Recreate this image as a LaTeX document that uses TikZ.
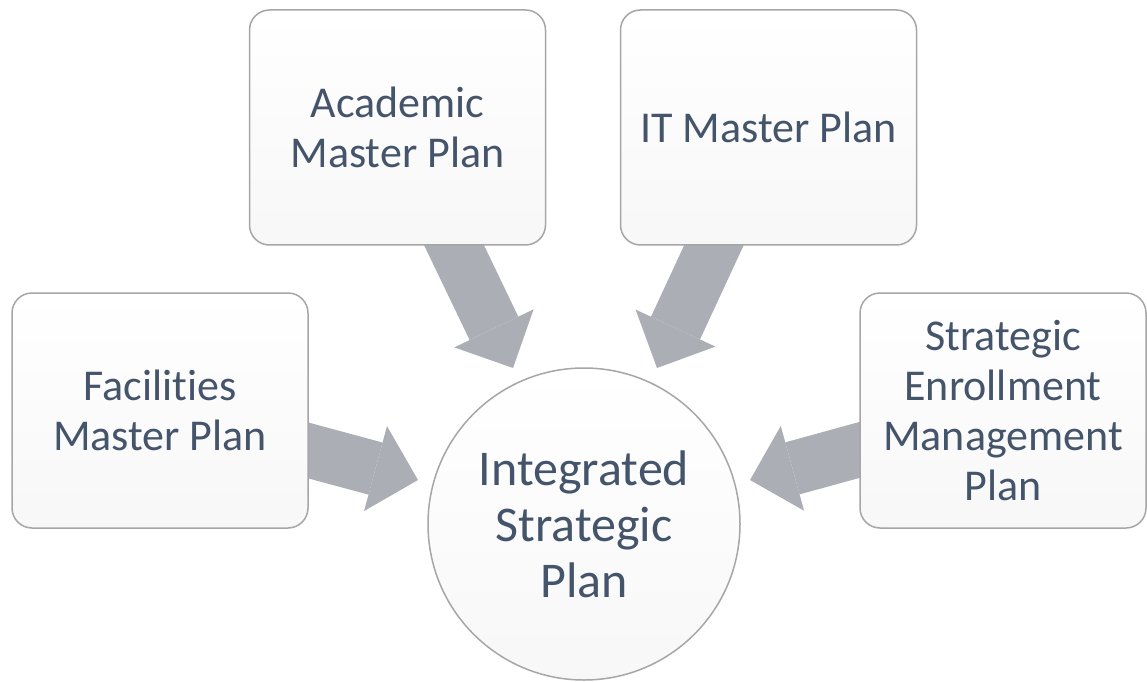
\documentclass[tikz,border=0pt]{standalone}
\usepackage{fontspec}
\setmainfont{Carlito}[RawFeature=-liga]
\usetikzlibrary{arrows.meta,backgrounds}
\definecolor{plantext}{HTML}{44546A}
\definecolor{feedgray}{HTML}{ABAFB5}
\definecolor{planrim}{HTML}{A6A6A6}

\begin{document}
\begin{tikzpicture}[x=1pt,y=1pt,
  plan/.style={draw=planrim,line width=1.5pt,rounded corners=20pt,minimum width=296pt,minimum height=235pt,
    top color=white,middle color=white,bottom color=black!3,align=center,text=plantext,font=\fontsize{44}{50}\selectfont},
  hub/.style={draw=planrim,line width=1.5pt,circle,minimum size=312pt,inner sep=0pt,
    top color=white,middle color=white,bottom color=black!3,align=center,text=plantext,font=\fontsize{50}{56}\selectfont},
  feed/.style={draw=feedgray,line width=54pt,-{Triangle[length=44pt,width=88pt,line width'=0pt]}}]

\useasboundingbox (0,0) rectangle (1147,681);

\node[plan] (fac) at (160,270.5) {Facilities\\Master Plan};
\node[plan] (acad) at (397.5,553.5) {Academic\\Master Plan};
\node[plan] (itp) at (768.5,553.5) {IT Master Plan};
\node[plan,minimum width=286pt] (sem) at (1003,270.5) {Strategic\\Enrollment\\Management\\Plan};

\node[hub] (isp) at (584,157) {Integrated\\Strategic\\Plan};

% arrow tips
\coordinate (tipfac) at (418,201);
\coordinate (tipacad) at (513,313);
\coordinate (tipitp) at (657,313);
\coordinate (tipsem) at (750,201);

\begin{pgfonlayer}{background}
\foreach \p in {fac,acad,itp,sem}
{
  \draw[feed] (\p.center) -- (tip\p);
}
\end{pgfonlayer}

\end{tikzpicture}
\end{document}
